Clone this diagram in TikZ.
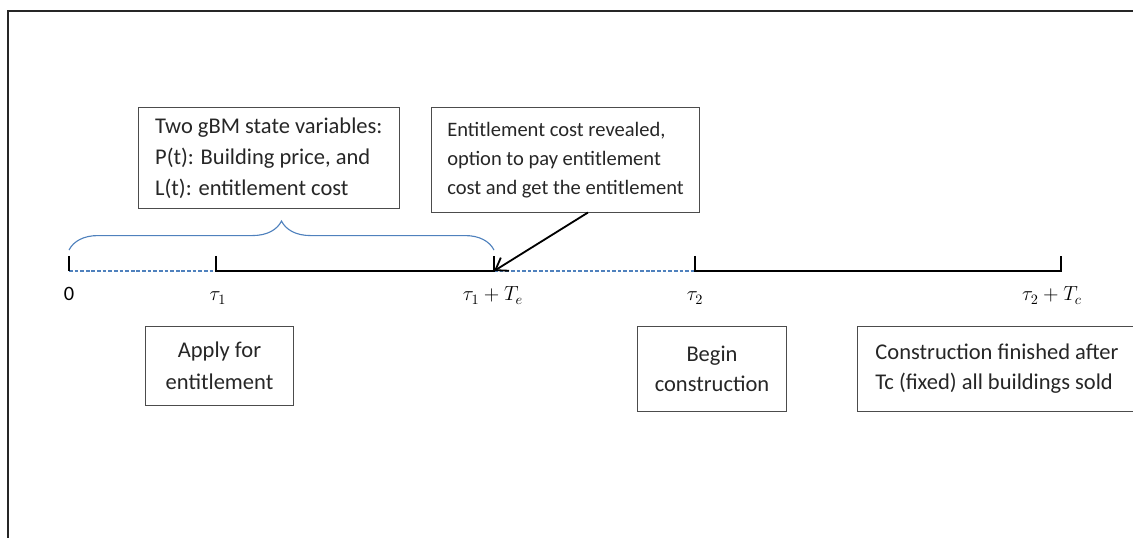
\documentclass[tikz,border=0pt]{standalone}
\usepackage{fix-cm}
\usepackage{amsmath}
\usepackage{fontspec}
\setmainfont{Carlito}
\usetikzlibrary{arrows.meta,decorations.pathreplacing}
\pgfdeclarelayer{bg}
\pgfsetlayers{bg,main}
\definecolor{wordblue}{HTML}{4F81BD}
\tikzset{
  evbox/.style={draw=black!70, line width=0.7pt, text=black!85, inner sep=0pt,
    font=\fontsize{16}{21.5}\selectfont},
  ticklabel/.style={anchor=base, inner sep=0pt, font=\fontsize{14.5}{18}\selectfont},
  solidspan/.style={line width=1.7pt, black},
  waitspan/.style={line width=1.1pt, wordblue, dash pattern=on 2.6pt off 1.4pt},
}

\begin{document}
\begin{tikzpicture}[x=0.025cm, y=-0.025cm]
        \clip (0,0) rectangle (1133,538);
        \draw [line width=1pt, black!85] (8,11) rectangle (1200,600);
        % time line
        \coordinate (t0) at (69,271);
        \coordinate (t1) at (216,271);
        \coordinate (t1e) at (494,271);
        \coordinate (t2) at (695,271);
        \coordinate (t2c) at (1061,271);
        \node (l0) [ticklabel] at (69,301) {0};
        \node (lt1) [ticklabel] at (218,301) {$\tau_1$};
        \node (lt1e) [ticklabel] at (493,301) {$\tau_1+T_e$};
        \node (lt2) [ticklabel] at (695,301) {$\tau_2$};
        \node (lt2c) [ticklabel] at (1052,301) {$\tau_2+T_c$};
        % boxes
        \node (gbm) [evbox, align=left, minimum width=185.7pt, minimum height=72.3pt,
                font=\fontsize{16}{22}\selectfont] at (268.8,158)
                {Two gBM state variables:\\P(t): Building price, and\\L(t): entitlement cost};
        \node (revealed) [evbox, align=left, minimum width=190pt, minimum height=74pt,
                font=\fontsize{14.6}{20.5}\selectfont] at (565.5,160)
                {Entitlement cost revealed,\\option to pay entitlement\\cost and get the entitlement};
        \node (apply) [evbox, align=center, minimum width=104.6pt, minimum height=55.5pt,
                font=\fontsize{16}{22.5}\selectfont] at (219.5,366)
                {Apply for\\entitlement};
        \node (begin) [evbox, align=center, minimum width=105.6pt, minimum height=61pt] at (712,369)
                {Begin\\construction};
        \node (finish) [evbox, align=left, minimum width=197.8pt, minimum height=61pt] at (997,369)
                {Construction finished after\\Tc (fixed) all buildings sold};
        \begin{pgfonlayer}{bg}
                \draw (t0) edge [waitspan] (t1);
                \draw (t1e) edge [waitspan] (t2);
                \draw [solidspan] ([yshift=10.7pt]t0) -- (t0);
                \draw [solidspan] ([yshift=10.7pt]t1) -- (t1) -- (t1e) -- ([yshift=10.7pt]t1e);
                \draw [solidspan] ([yshift=10.7pt]t2) -- (t2) -- (t2c) -- ([yshift=10.7pt]t2c);
        \end{pgfonlayer}
        \draw [wordblue, line width=0.8pt, decorate, decoration={brace, amplitude=20.6pt}]
                ([yshift=14.9pt]t0) -- ([yshift=14.9pt]t1e);
        \draw [-{Straight Barb[length=8pt, width=11pt]}, line width=1.3pt]
                ([xshift=16pt]revealed.south) -- (t1e);
\end{tikzpicture}
\end{document}
